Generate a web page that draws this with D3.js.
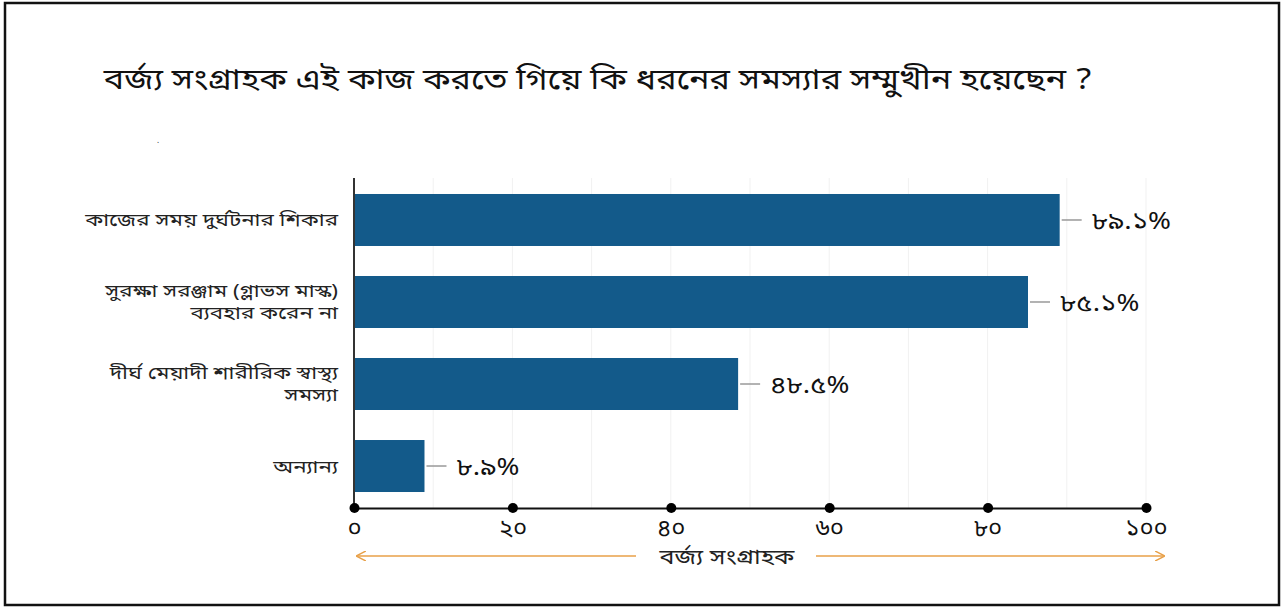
<!DOCTYPE html>
<html>
<head>
<meta charset="utf-8">
<script src="https://cdn.jsdelivr.net/npm/d3@7"></script>
<style>
  body { margin: 0; background: #fff; }
  text { font-family: "Noto Sans Bengali", "Lohit Bengali", "Noto Sans", "DejaVu Sans", sans-serif; }
</style>
</head>
<body>
<script>
const title = "বর্জ্য সংগ্রাহক এই কাজ করতে গিয়ে কি ধরনের সমস্যার সম্মুখীন হয়েছেন ?"
const axisTitle = "বর্জ্য সংগ্রাহক"

const categories = [
    ["কাজের সময় দুর্ঘটনার শিকার"],
    ["সুরক্ষা সরঞ্জাম (গ্লাভস মাস্ক)", "ব্যবহার করেন না"],
    ["দীর্ঘ মেয়াদী শারীরিক স্বাস্থ্য", "সমস্যা"],
    ["অন্যান্য"]
]
const values = [89.1, 85.1, 48.5, 8.9]
const ticks = [0, 20, 40, 60, 80, 100]
const gridTicks = [10, 20, 30, 40, 50, 60, 70, 80, 90, 100]

const bnDigits = "০১২৩৪৫৬৭৮৯"
const bn = s => String(s).replace(/[0-9]/g, d => bnDigits[+d])

const data = values.map((v, i) => ({ key: i, lines: categories[i], value: v }))

const width = 1285, height = 608
const margin = { left: 354, right: 139, top: 178, bottom: 100 }

// the reference font is wider than Noto Bengali, so stretch text a bit
const stretch = (x, y, s) => `translate(${x},${y}) scale(${s},1)`

const svg = d3.select("body").append("svg")
    .attr("width", width)
    .attr("height", height)

// frame
svg.append("rect")
    .attr("x", 5).attr("y", 3)
    .attr("width", 1274).attr("height", 602)
    .attr("fill", "none")
    .attr("stroke", "#111")
    .attr("stroke-width", 2.5)

svg.append("text")
    .attr("transform", stretch(598, 89, 1.18))
    .attr("text-anchor", "middle")
    .attr("font-size", 29)
    .attr("fill", "#111")
    .text(title)

svg.append("text")
    .attr("x", 157).attr("y", 143)
    .attr("font-size", 8)
    .attr("fill", "#333")
    .text(".")

const x = d3.scaleLinear()
    .domain([0, 100])
    .range([margin.left, width - margin.right])

const axisY = 508

const y = d3.scaleBand()
    .domain(data.map(d => d.key))
    .range([margin.top, axisY])
    .paddingInner(0.366)
    .paddingOuter(0.195)

// faint grid
svg.append("g")
    .selectAll("line")
    .data(gridTicks)
    .join("line")
    .attr("x1", d => x(d)).attr("x2", d => x(d))
    .attr("y1", margin.top).attr("y2", axisY)
    .attr("stroke", "#f1f1f1")
    .attr("stroke-width", 1)

// bars
svg.append("g")
    .selectAll("rect")
    .data(data)
    .join("rect")
    .attr("x", x(0))
    .attr("y", d => y(d.key))
    .attr("width", d => x(d.value) - x(0))
    .attr("height", y.bandwidth())
    .attr("fill", "#135a8a")

// leader lines + value labels
svg.append("g")
    .selectAll("line")
    .data(data)
    .join("line")
    .attr("x1", d => x(d.value) + 2)
    .attr("x2", d => x(d.value) + 22)
    .attr("y1", d => y(d.key) + y.bandwidth() / 2)
    .attr("y2", d => y(d.key) + y.bandwidth() / 2)
    .attr("stroke", "#999")
    .attr("stroke-width", 1.5)

svg.append("g")
    .selectAll("text")
    .data(data)
    .join("text")
    .attr("transform", d => stretch(x(d.value) + 32, y(d.key) + y.bandwidth() / 2, 1.15))
    .attr("dy", "0.36em")
    .attr("font-size", 24)
    .attr("fill", "#111")
    .text(d => bn(d.value.toFixed(1)) + "%")

// category labels
const cat = svg.append("g")
    .selectAll("text")
    .data(data)
    .join("text")
    .attr("text-anchor", "end")
    .attr("font-size", 18)
    .attr("fill", "#222")
    .attr("transform", d => stretch(338, y(d.key) + y.bandwidth() / 2 - (d.lines.length - 1) * 11, 1.24))

cat.selectAll("tspan")
    .data(d => d.lines)
    .join("tspan")
    .attr("x", 0)
    .attr("dy", (d, i) => i === 0 ? "0.36em" : "22")
    .text(d => d)

// left axis line
svg.append("line")
    .attr("x1", x(0)).attr("x2", x(0))
    .attr("y1", margin.top).attr("y2", axisY)
    .attr("stroke", "#333")
    .attr("stroke-width", 2)

// bottom axis
const xAxis = d3.axisBottom(x)
    .tickValues(ticks)
    .tickSize(0)
    .tickPadding(11)
    .tickFormat(d => bn(d))

const gx = svg.append("g")
    .attr("transform", `translate(0,${axisY})`)
    .call(xAxis)
gx.select(".domain").attr("stroke", "#111").attr("stroke-width", 2)
gx.selectAll(".tick text")
    .attr("font-size", 24)
    .attr("fill", "#111")
    .style("font-family", "'Noto Sans Bengali', 'Lohit Bengali', 'Noto Sans', sans-serif")
gx.selectAll(".tick")
    .append("circle")
    .attr("r", 5)
    .attr("fill", "#000")

// axis title with arrows
const arrowY = 556
const orange = "#e8a048"
svg.append("defs").append("marker")
    .attr("id", "arr")
    .attr("viewBox", "0 0 10 10")
    .attr("refX", 9).attr("refY", 5)
    .attr("markerWidth", 10).attr("markerHeight", 10)
    .attr("markerUnits", "userSpaceOnUse")
    .attr("orient", "auto")
    .append("path")
    .attr("d", "M0,0 L10,5 L0,10")
    .attr("fill", "none")
    .attr("stroke", orange)
    .attr("stroke-width", 1.5)

svg.append("line")
    .attr("x1", 636).attr("x2", 357)
    .attr("y1", arrowY).attr("y2", arrowY)
    .attr("stroke", orange).attr("stroke-width", 1.5)
    .attr("marker-end", "url(#arr)")
svg.append("line")
    .attr("x1", 816).attr("x2", 1164)
    .attr("y1", arrowY).attr("y2", arrowY)
    .attr("stroke", orange).attr("stroke-width", 1.5)
    .attr("marker-end", "url(#arr)")

svg.append("text")
    .attr("transform", stretch(727, arrowY, 1.2))
    .attr("dy", "0.36em")
    .attr("text-anchor", "middle")
    .attr("font-size", 21)
    .attr("fill", "#222")
    .text(axisTitle)
</script>
</body>
</html>
